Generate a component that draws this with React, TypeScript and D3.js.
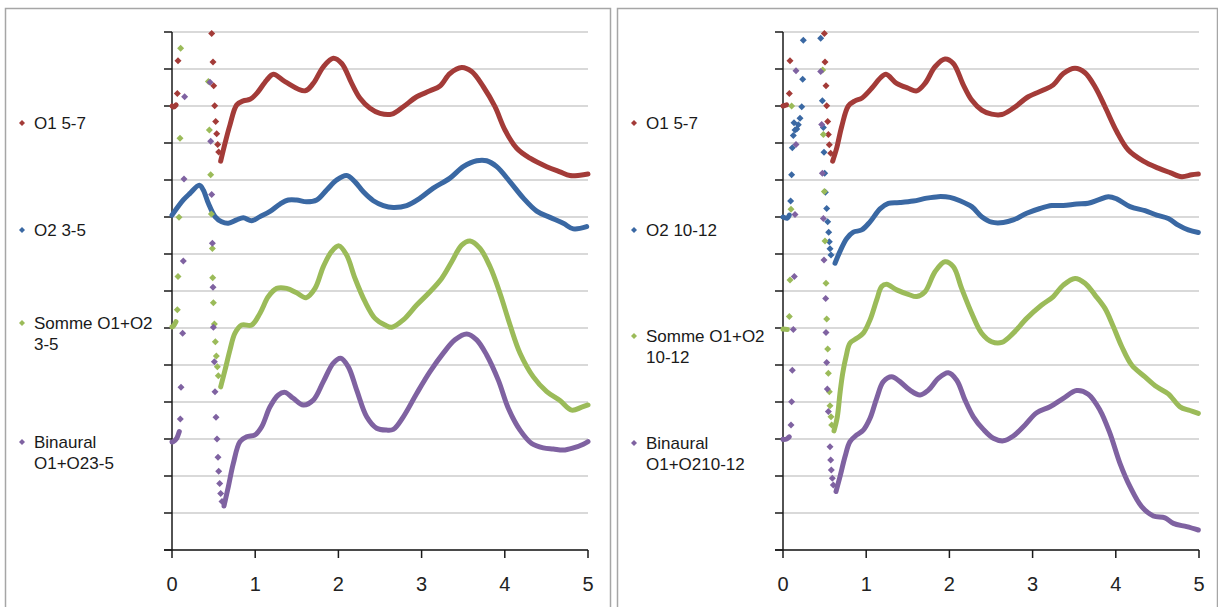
import React from "react";
import * as d3 from "d3";

type P = [number, number];

// ---------- axes ----------
const xTicks = [0, 1, 2, 3, 4, 5];
const yGridValues = d3.range(0, 15); // 14 grid intervals, unlabeled

const seriesColors = ["#a33b38", "#3a68a3", "#9bbb59", "#7f62a1"];

// ---------- legends ----------
const leftLegend: string[][] = [["O1 5-7"], ["O2 3-5"], ["Somme O1+O2", "3-5"], ["Binaural", "O1+O23-5"]];
const rightLegend: string[][] = [["O1 5-7"], ["O2 10-12"], ["Somme O1+O2", "10-12"], ["Binaural", "O1+O210-12"]];

// ---------- LEFT chart data ----------
const leftO1Start: P[] = [[0, 12.0], [0.02, 11.97], [0.05, 12.03]];
const leftO1Dots: P[] = [[0.064, 12.34], [0.072, 13.22], [0.477, 13.96], [0.493, 13.19], [0.501, 12.55], [0.513, 12.01], [0.525, 11.58], [0.537, 11.25], [0.549, 10.96], [0.561, 10.76]];
const leftO1Line: P[] = [[0.585, 10.51], [0.637, 10.99], [0.697, 11.49], [0.778, 12.03], [0.857, 12.14], [0.9375, 12.18], [1.018, 12.34], [1.138, 12.7], [1.218, 12.86], [1.358, 12.66], [1.599, 12.41], [1.698, 12.61], [1.819, 13.06], [1.939, 13.29], [2.04, 13.15], [2.16, 12.61], [2.26, 12.21], [2.38, 11.94], [2.5, 11.8], [2.641, 11.78], [2.78, 11.98], [2.941, 12.25], [3.101, 12.41], [3.221, 12.54], [3.341, 12.88], [3.482, 13.04], [3.602, 12.93], [3.742, 12.52], [3.882, 11.98], [4.002, 11.35], [4.143, 10.86], [4.303, 10.59], [4.504, 10.36], [4.663, 10.22], [4.784, 10.12], [4.904, 10.13], [5.0, 10.16]];

const leftO2Start: P[] = [];
const leftO2Dots: P[] = [];
const leftO2Line: P[] = [[0, 9.05], [0.136, 9.46], [0.216, 9.64], [0.328, 9.86], [0.376, 9.73], [0.437, 9.37], [0.517, 9.01], [0.597, 8.87], [0.677, 8.83], [0.777, 8.92], [0.857, 8.98], [0.958, 8.9], [1.058, 9.01], [1.178, 9.15], [1.298, 9.35], [1.398, 9.46], [1.498, 9.46], [1.619, 9.41], [1.739, 9.46], [1.859, 9.73], [1.979, 10.0], [2.099, 10.12], [2.2, 9.95], [2.3, 9.68], [2.42, 9.44], [2.54, 9.31], [2.66, 9.26], [2.821, 9.31], [2.981, 9.51], [3.141, 9.78], [3.341, 10.05], [3.501, 10.36], [3.662, 10.52], [3.782, 10.52], [3.903, 10.36], [4.063, 9.95], [4.223, 9.51], [4.383, 9.16], [4.543, 8.99], [4.703, 8.83], [4.824, 8.68], [4.984, 8.74]];

const leftSumStart: P[] = [[0, 6.03], [0.016, 6.05], [0.048, 6.17]];
const leftSumDots: P[] = [[0.064, 6.49], [0.072, 7.39], [0.084, 8.99], [0.096, 11.13], [0.104, 13.56], [0.437, 12.66], [0.449, 11.35], [0.465, 10.14], [0.473, 9.08], [0.485, 8.15], [0.489, 7.36], [0.497, 6.68], [0.509, 6.11], [0.521, 5.63], [0.533, 5.24], [0.545, 4.95], [0.557, 4.71]];
const leftSumLine: P[] = [[0.585, 4.41], [0.637, 4.86], [0.697, 5.41], [0.757, 5.86], [0.838, 6.08], [0.958, 6.08], [1.058, 6.4], [1.158, 6.85], [1.258, 7.07], [1.378, 7.07], [1.498, 6.95], [1.611, 6.82], [1.719, 7.07], [1.819, 7.66], [1.919, 8.07], [2.007, 8.22], [2.099, 7.97], [2.2, 7.34], [2.32, 6.71], [2.44, 6.26], [2.56, 6.08], [2.641, 6.02], [2.78, 6.22], [2.941, 6.62], [3.101, 6.98], [3.241, 7.34], [3.362, 7.79], [3.482, 8.24], [3.582, 8.35], [3.702, 8.15], [3.822, 7.66], [3.942, 6.94], [4.063, 6.08], [4.183, 5.32], [4.343, 4.68], [4.504, 4.28], [4.663, 4.04], [4.804, 3.78], [4.924, 3.86], [5.0, 3.92]];

const leftBinStart: P[] = [[0, 2.92], [0.016, 2.93], [0.056, 3.02], [0.088, 3.2]];
const leftBinDots: P[] = [[0.1, 3.54], [0.108, 4.4], [0.128, 5.86], [0.136, 7.81], [0.144, 10.03], [0.152, 12.25], [0.457, 12.64], [0.465, 11.05], [0.477, 9.61], [0.485, 8.29], [0.493, 7.1], [0.497, 6.02], [0.509, 5.09], [0.517, 4.28], [0.529, 3.59], [0.541, 3.0], [0.553, 2.51], [0.561, 2.13], [0.573, 1.8], [0.585, 1.53], [0.601, 1.31]];
const leftBinLine: P[] = [[0.625, 1.19], [0.677, 1.71], [0.737, 2.34], [0.817, 2.93], [0.897, 3.06], [0.998, 3.11], [1.078, 3.33], [1.178, 3.87], [1.278, 4.19], [1.358, 4.26], [1.458, 4.1], [1.579, 3.92], [1.698, 4.05], [1.819, 4.55], [1.939, 5.05], [2.027, 5.18], [2.119, 4.95], [2.22, 4.32], [2.34, 3.6], [2.46, 3.29], [2.58, 3.24], [2.66, 3.26], [2.78, 3.6], [2.941, 4.23], [3.101, 4.82], [3.261, 5.32], [3.401, 5.68], [3.542, 5.84], [3.662, 5.68], [3.782, 5.27], [3.922, 4.59], [4.042, 3.83], [4.183, 3.24], [4.323, 2.88], [4.463, 2.76], [4.583, 2.73], [4.703, 2.7], [4.824, 2.76], [4.944, 2.86], [5.0, 2.93]];

// ---------- RIGHT chart data ----------
const rightO1Start: P[] = [[0, 12.0], [0.044, 12.03]];
const rightO1Dots: P[] = [[0.076, 12.34], [0.084, 13.22], [0.497, 13.96], [0.505, 13.19], [0.517, 12.55], [0.525, 12.01], [0.537, 11.58], [0.545, 11.23], [0.557, 10.95], [0.573, 10.72]];
const rightO1Line: P[] = [[0.597, 10.51], [0.645, 10.86], [0.705, 11.44], [0.785, 12.0], [0.865, 12.14], [0.946, 12.21], [1.066, 12.48], [1.166, 12.75], [1.238, 12.86], [1.366, 12.61], [1.506, 12.48], [1.607, 12.41], [1.707, 12.61], [1.827, 13.06], [1.947, 13.27], [2.047, 13.15], [2.167, 12.57], [2.268, 12.16], [2.388, 11.89], [2.508, 11.78], [2.629, 11.77], [2.768, 11.94], [2.948, 12.25], [3.129, 12.43], [3.249, 12.57], [3.369, 12.88], [3.51, 13.02], [3.63, 12.9], [3.75, 12.52], [3.87, 11.98], [4.011, 11.31], [4.15, 10.81], [4.331, 10.51], [4.511, 10.32], [4.651, 10.2], [4.792, 10.09], [4.912, 10.14], [4.992, 10.16]];

const rightO2Start: P[] = [[0, 9.0], [0.052, 8.97], [0.076, 9.05]];
const rightO2Dots: P[] = [[0.092, 9.43], [0.104, 10.14], [0.112, 10.87], [0.124, 11.2], [0.132, 11.55], [0.144, 11.35], [0.165, 11.38], [0.184, 11.49], [0.204, 11.67], [0.225, 11.98], [0.237, 12.72], [0.244, 13.78], [0.453, 13.83], [0.473, 12.14], [0.485, 11.42], [0.493, 10.75], [0.501, 10.18], [0.509, 9.67], [0.525, 9.23], [0.537, 8.87], [0.549, 8.59], [0.557, 8.33], [0.565, 8.14], [0.577, 7.97]];
const rightO2Line: P[] = [[0.625, 7.75], [0.685, 8.07], [0.766, 8.42], [0.845, 8.59], [0.946, 8.65], [1.046, 8.87], [1.166, 9.22], [1.266, 9.37], [1.406, 9.39], [1.566, 9.43], [1.727, 9.51], [1.867, 9.55], [2.007, 9.53], [2.127, 9.44], [2.268, 9.28], [2.388, 9.01], [2.508, 8.86], [2.648, 8.85], [2.768, 8.92], [2.929, 9.1], [3.089, 9.23], [3.23, 9.31], [3.369, 9.31], [3.53, 9.35], [3.669, 9.37], [3.79, 9.46], [3.91, 9.55], [4.011, 9.49], [4.171, 9.28], [4.351, 9.17], [4.492, 9.05], [4.631, 8.96], [4.751, 8.78], [4.871, 8.65], [4.992, 8.58]];

const rightSumStart: P[] = [[0, 5.97], [0.052, 5.96]];
const rightSumDots: P[] = [[0.076, 6.31], [0.084, 7.3], [0.096, 9.21], [0.104, 12.0], [0.477, 12.97], [0.485, 11.23], [0.497, 9.69], [0.505, 8.35], [0.517, 7.21], [0.525, 6.24], [0.537, 5.43], [0.545, 4.78], [0.557, 4.28], [0.565, 3.9], [0.577, 3.6], [0.585, 3.38]];
const rightSumLine: P[] = [[0.613, 3.22], [0.653, 3.6], [0.685, 4.24], [0.718, 4.78], [0.757, 5.22], [0.805, 5.59], [0.886, 5.72], [0.965, 5.86], [1.046, 6.22], [1.126, 6.76], [1.186, 7.12], [1.246, 7.18], [1.366, 7.03], [1.506, 6.91], [1.607, 6.85], [1.707, 6.98], [1.827, 7.52], [1.947, 7.79], [2.047, 7.66], [2.147, 7.07], [2.268, 6.4], [2.388, 5.86], [2.508, 5.63], [2.629, 5.61], [2.768, 5.86], [2.929, 6.26], [3.109, 6.62], [3.249, 6.85], [3.369, 7.16], [3.51, 7.34], [3.63, 7.21], [3.75, 6.89], [3.87, 6.53], [3.97, 6.04], [4.071, 5.5], [4.191, 5.0], [4.351, 4.68], [4.492, 4.41], [4.631, 4.22], [4.772, 3.87], [4.892, 3.77], [4.992, 3.69]];

const rightBinStart: P[] = [[0, 2.99], [0.044, 3.0], [0.076, 3.06]];
const rightBinDots: P[] = [[0.096, 3.38], [0.104, 4.01], [0.112, 4.86], [0.124, 5.96], [0.136, 7.39], [0.144, 9.07], [0.156, 10.96], [0.156, 12.95], [0.453, 12.93], [0.465, 11.5], [0.473, 10.18], [0.485, 8.96], [0.493, 7.84], [0.513, 6.8], [0.517, 5.88], [0.525, 5.07], [0.533, 4.35], [0.545, 3.74], [0.565, 2.79], [0.573, 2.43], [0.581, 2.16], [0.593, 1.94], [0.605, 1.76]];
const rightBinLine: P[] = [[0.637, 1.58], [0.685, 1.98], [0.745, 2.52], [0.805, 2.93], [0.886, 3.11], [0.965, 3.24], [1.046, 3.56], [1.126, 4.1], [1.206, 4.55], [1.307, 4.68], [1.406, 4.55], [1.526, 4.32], [1.647, 4.19], [1.747, 4.32], [1.867, 4.64], [1.987, 4.79], [2.088, 4.59], [2.188, 4.05], [2.288, 3.6], [2.408, 3.26], [2.528, 3.02], [2.648, 2.95], [2.768, 3.08], [2.909, 3.38], [3.049, 3.71], [3.209, 3.87], [3.369, 4.1], [3.53, 4.31], [3.669, 4.21], [3.81, 3.78], [3.93, 3.15], [4.05, 2.34], [4.171, 1.71], [4.311, 1.17], [4.451, 0.92], [4.591, 0.87], [4.692, 0.72], [4.852, 0.63], [4.992, 0.54]];

type Series = { start: P[]; dots: P[]; line: P[] };

const leftSeries: Series[] = [
  { start: leftO1Start, dots: leftO1Dots, line: leftO1Line },
  { start: leftO2Start, dots: leftO2Dots, line: leftO2Line },
  { start: leftSumStart, dots: leftSumDots, line: leftSumLine },
  { start: leftBinStart, dots: leftBinDots, line: leftBinLine },
];
const rightSeries: Series[] = [
  { start: rightO1Start, dots: rightO1Dots, line: rightO1Line },
  { start: rightO2Start, dots: rightO2Dots, line: rightO2Line },
  { start: rightSumStart, dots: rightSumDots, line: rightSumLine },
  { start: rightBinStart, dots: rightBinDots, line: rightBinLine },
];

const FONT = "'Liberation Sans', Arial, sans-serif";

function diamond(cx: number, cy: number, r: number) {
  return `M${cx},${cy - r}L${cx + r},${cy}L${cx},${cy + r}L${cx - r},${cy}Z`;
}

type PanelProps = {
  frameX: number;
  frameW: number;
  plotX0: number;
  legendX: number;
  legendY: number[];
  legend: string[][];
  series: Series[];
};

function Panel({ frameX, frameW, plotX0, legendX, legendY, legend, series }: PanelProps) {
  const x = d3.scaleLinear().domain([0, 5]).range([plotX0, plotX0 + 416]);
  const y = d3.scaleLinear().domain([0, 14]).range([550, 32]);
  const line = d3
    .line<P>()
    .x((d) => x(d[0]))
    .y((d) => y(d[1]))
    .curve(d3.curveCatmullRom.alpha(0.5));
  return (
    <g>
      <rect x={frameX + 0.5} y={8.5} width={frameW} height={640} fill="#fff" stroke="#a6a6a6" strokeWidth={1.5} />
      {yGridValues.map((v) => (
        <line key={"g" + v} x1={x(0)} x2={x(5)} y1={y(v)} y2={y(v)} stroke="#d9d9d9" strokeWidth={2} />
      ))}
      {yGridValues.map((v) => (
        <line key={"yt" + v} x1={x(0) - 8} x2={x(0)} y1={y(v)} y2={y(v)} stroke="#1a1a1a" strokeWidth={1.5} />
      ))}
      <line x1={x(0)} x2={x(0)} y1={y(14)} y2={y(0)} stroke="#1a1a1a" strokeWidth={1.5} />
      <line x1={x(0) - 8} x2={x(5)} y1={y(0)} y2={y(0)} stroke="#1a1a1a" strokeWidth={1.5} />
      {xTicks.map((t) => (
        <g key={"xt" + t}>
          <line x1={x(t)} x2={x(t)} y1={y(0)} y2={y(0) + 8} stroke="#1a1a1a" strokeWidth={1.5} />
          <text x={x(t)} y={y(0) + 41} textAnchor="middle" fontFamily={FONT} fontSize={20} fill="#222">
            {t}
          </text>
        </g>
      ))}
      {series.map((s, i) => (
        <g key={"s" + i}>
          {s.start.length > 1 && (
            <path d={line(s.start) || ""} fill="none" stroke={seriesColors[i]} strokeWidth={5} strokeLinecap="round" strokeLinejoin="round" />
          )}
          <path d={line(s.line) || ""} fill="none" stroke={seriesColors[i]} strokeWidth={5} strokeLinecap="round" strokeLinejoin="round" />
          {s.dots.map((d, j) => (
            <path key={j} d={diamond(x(d[0]), y(d[1]), 3.5)} fill={seriesColors[i]} />
          ))}
        </g>
      ))}
      {legend.map((lines, i) => (
        <g key={"l" + i}>
          <path d={diamond(legendX, legendY[i], 3)} fill={seriesColors[i]} />
          {lines.map((t, k) => (
            <text key={k} x={legendX + 12} y={legendY[i] + 6 + k * 21} fontFamily={FONT} fontSize={17} fill="#1a1a1a">
              {t}
            </text>
          ))}
        </g>
      ))}
    </g>
  );
}

export default function App() {
  return (
    <svg width={1218} height={607} style={{ position: "absolute", left: 0, top: 0, background: "#fff" }}>
      <rect x={0} y={0} width={1218} height={607} fill="#fff" />
      <Panel frameX={5} frameW={605} plotX0={172} legendX={22} legendY={[123, 230, 323, 442]} legend={leftLegend} series={leftSeries} />
      <Panel frameX={617} frameW={600} plotX0={783} legendX={634} legendY={[123, 230, 336, 443]} legend={rightLegend} series={rightSeries} />
    </svg>
  );
}
